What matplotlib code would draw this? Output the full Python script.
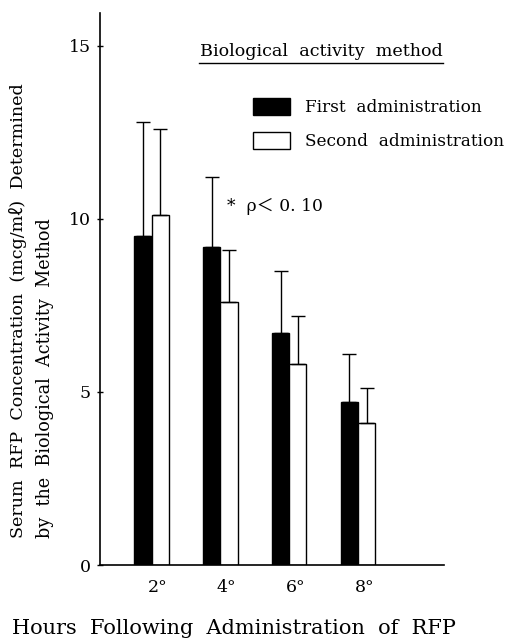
import matplotlib
matplotlib.use("Agg")
import matplotlib.pyplot as plt
from matplotlib.lines import Line2D
import numpy as np

hours = ["2°", "4°", "6°", "8°"]
first_mean = [9.5, 9.2, 6.7, 4.7]
first_sd = [3.3, 2.0, 1.8, 1.4]
second_mean = [10.1, 7.6, 5.8, 4.1]
second_sd = [2.5, 1.5, 1.4, 1.0]
yticks = [0, 5, 10, 15]

plt.rcParams['font.family'] = ['DejaVu Serif', 'Noto Sans CJK JP']

W, H = 507, 638
fig = plt.figure(figsize=(W / 100, H / 100), dpi=100)
ax = fig.add_axes([100 / W, 73 / H, 344 / W, 552 / H])

x = np.arange(1, len(hours) + 1)
bw = 0.25
ekw = dict(elinewidth=1.0, capthick=1.0, ecolor='black')
ax.bar(x - bw / 2, first_mean, bw, color='black', edgecolor='black', linewidth=1.0,
       yerr=[np.zeros(len(x)), first_sd], capsize=5, error_kw=ekw, label='First  administration')
ax.bar(x + bw / 2, second_mean, bw, color='white', edgecolor='black', linewidth=1.0,
       yerr=[np.zeros(len(x)), second_sd], capsize=5, error_kw=ekw, label='Second  administration')

ax.set_xlim(0.25, 5.25)
ax.set_ylim(0, 15.95)
ax.set_yticks(yticks)
ax.set_yticklabels([str(v) for v in yticks], fontsize=12.5)
ax.set_xticks(x + 0.09)
ax.set_xticklabels(hours, fontsize=12.5)
ax.tick_params(axis='x', length=0, pad=10)
ax.tick_params(axis='y', direction='inout', length=5, width=1, pad=4)
for s in ['top', 'right']:
    ax.spines[s].set_visible(False)
for s in ['left', 'bottom']:
    ax.spines[s].set_linewidth(1.2)

# y labels
fig.text(18 / W, 1 - 538 / H, "Serum  RFP  Concentration  (mcg/mℓ)  Determined",
         rotation=90, ha='center', va='bottom', fontsize=12.6)
fig.text(45 / W, 1 - 538 / H, "by  the  Biological  Activity  Method",
         rotation=90, ha='center', va='bottom', fontsize=12.7)

# x label
fig.text(234 / W, 1 - 628 / H, "Hours  Following  Administration  of  RFP",
         ha='center', va='center', fontsize=15)

# title with underline
fig.text(321 / W, 1 - 52 / H, "Biological  activity  method", ha='center', va='center', fontsize=12.6)
fig.add_artist(Line2D([199 / W, 443 / W], [1 - 63 / H, 1 - 63 / H], color='black', lw=1.0))

# annotation
fig.text(227 / W, 1 - 206 / H, "*  ρ＜ 0. 10", ha='left', va='center', fontsize=12.3)

leg = fig.legend(loc='upper left', bbox_to_anchor=(253 / W, 1 - 98 / H), frameon=False,
                 fontsize=12.2, handlelength=2.2, handleheight=1.2, handletextpad=0.85,
                 labelspacing=0.9, borderpad=0, borderaxespad=0)

fig.savefig("out.png", dpi=100)
